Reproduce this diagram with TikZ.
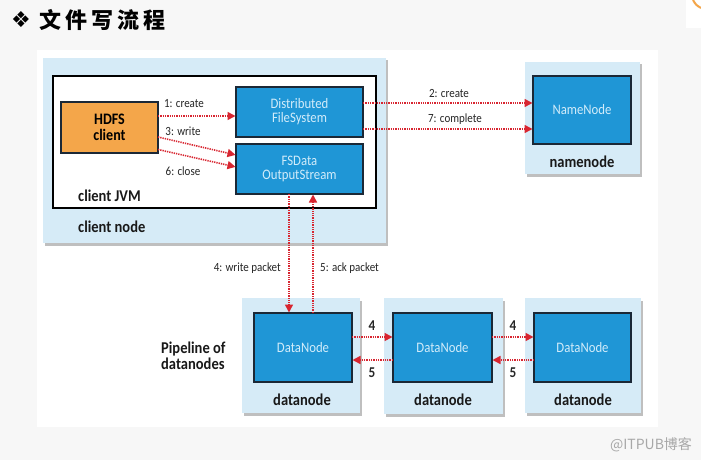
\documentclass[tikz,border=0pt]{standalone}
\usepackage{fontspec}
\setmainfont{Carlito}[FakeStretch=0.88]
\newfontfamily\cjk{Noto Sans CJK SC}
\newfontfamily\dejavu{DejaVu Sans}
\usetikzlibrary{arrows.meta,shadows}
\definecolor{bggray}{HTML}{F7F7F7}
\definecolor{lblue}{HTML}{D6EBF7}
\definecolor{dblue}{HTML}{1F96D6}
\definecolor{navy}{HTML}{1B2836}
\definecolor{ltext}{HTML}{D2ECFA}
\definecolor{orng}{HTML}{F4A64A}
\definecolor{arrred}{HTML}{D82530}
\definecolor{wmgray}{HTML}{A8A8A8}
\tikzset{
  outerbox/.style={fill=lblue, inner sep=0pt, outer sep=0pt,
    drop shadow={shadow xshift=2pt, shadow yshift=-2.5pt, fill=black, opacity=0.25}},
  innerbox/.style={fill=dblue, draw=navy, line width=1.6pt, inner sep=0pt, outer sep=0pt,
    text=ltext, align=center, font=\fontsize{14.5}{14}\selectfont},
  clientbox/.style={fill=orng, draw=navy, line width=1.6pt, inner sep=0pt, outer sep=0pt,
    text=black, align=center, font=\fontsize{16}{16.5}\selectfont\bfseries},
  jvmbox/.style={fill=white, draw=black, line width=1.5pt, inner sep=0pt, outer sep=0pt},
  boldlbl/.style={font=\fontsize{16.5}{16.5}\selectfont\bfseries, inner sep=0pt, text=black!90},
  arrlbl/.style={font=\fontsize{12.5}{13}\selectfont, inner sep=0pt, text=black!85},
  numlbl/.style={font=\fontsize{15}{15}\selectfont\bfseries, inner sep=0pt, text=black!85},
  arr/.style={draw=arrred, line width=1.6pt, dash pattern=on 1.3pt off 1pt,
    -{Triangle[length=8pt,width=8pt]}, shorten >=0.5pt},
}
\begin{document}
\begin{tikzpicture}[x=1pt,y=-1pt]
\fill[bggray] (0,0) rectangle (701,460);
\useasboundingbox (0,0) rectangle (701,460);
\fill[white] (37,50) rectangle (658,427);
\fill[white] (686,0) rectangle (701,28);
\draw[orng, line width=2pt] (693,0) .. controls (696,5) .. (701,8);

% title
\node[inner sep=0pt, font=\dejavu\fontsize{22}{22}\selectfont] (diam) at (21,20) {❖};
\node[anchor=west, inner sep=0pt, font=\cjk\bfseries\fontsize{22}{22}\selectfont] (title) at (39,20)
  {文\hspace{4pt}件\hspace{4pt}写\hspace{4pt}流\hspace{4pt}程};

% client node
\node[outerbox, minimum width=343pt, minimum height=185pt] (clientnode) at (214.5,150.5) {};
\node[jvmbox, minimum width=323pt, minimum height=132pt] (jvm) at (214.5,142) {};
\node[clientbox, minimum width=97pt, minimum height=51pt] (hdfs) at (109.5,127.5) {HDFS\\client};
\node[innerbox, minimum width=127pt, minimum height=50pt] (dfs) at (299.5,112) {Distributed\\FileSystem};
\node[innerbox, minimum width=127pt, minimum height=50pt] (fsd) at (299.5,169) {FSData\\OutputStream};
\node[boldlbl, anchor=west] (jvmlbl) at (78,196) {client JVM};
\node[boldlbl, anchor=west] (cnlbl) at (78,227) {client node};

% namenode
\node[outerbox, minimum width=115pt, minimum height=112pt] (nnout) at (582.5,118) {};
\node[innerbox, minimum width=98pt, minimum height=68pt] (nn) at (582,110) {NameNode};
\node[boldlbl] (nnlbl) at (582,162) {namenode};

% datanodes
\node[outerbox, minimum width=118pt, minimum height=115pt] (dn1out) at (301,355.5) {};
\node[innerbox, minimum width=98pt, minimum height=69pt] (dn1) at (303,347.5) {DataNode};
\node[boldlbl] (dn1lbl) at (302,400) {datanode};
\node[outerbox, minimum width=119pt, minimum height=116pt] (dn2out) at (443,356) {};
\node[innerbox, minimum width=99pt, minimum height=69pt] (dn2) at (442.5,347.5) {DataNode};
\node[boldlbl] (dn2lbl) at (443,400) {datanode};
\node[outerbox, minimum width=116pt, minimum height=115pt] (dn3out) at (583,355.5) {};
\node[innerbox, minimum width=97pt, minimum height=69pt] (dn3) at (582.5,347.5) {DataNode};
\node[boldlbl] (dn3lbl) at (583,400) {datanode};
\node[boldlbl, anchor=west, align=left] (pipe) at (161,356) {Pipeline of\\datanodes};

% client internal arrows
\coordinate (c1) at ([yshift=11.5pt]hdfs.east);
\draw[arr] (c1) -- (c1 -| dfs.west);
\draw[arr] ([yshift=-9.5pt]hdfs.east) -- ([yshift=14pt]fsd.west);
\draw[arr] ([yshift=-22pt]hdfs.east) -- ([yshift=2pt]fsd.west);
\node[arrlbl] (l1) at (184,104) {1: create};
\node[arrlbl] (l3) at (183,131) {3: write};
\node[arrlbl] (l6) at (183,171) {6: close};

% to namenode
\coordinate (c2) at ([yshift=9pt]dfs.east);
\coordinate (c7) at ([yshift=-17pt]dfs.east);
\draw[arr] (c2) -- (c2 -| nn.west);
\draw[arr] (c7) -- (c7 -| nn.west);
\node[arrlbl] (l2) at (449,93) {2: create};
\node[arrlbl] (l7) at (455,119) {7: complete};

% write/ack packet
\coordinate (c4) at ([xshift=-10.5pt]fsd.south);
\coordinate (c5) at ([xshift=13.5pt]fsd.south);
\draw[arr] (c4) -- (c4 |- dn1.north);
\draw[arr] (c5 |- dn1.north) -- (c5);
\node[arrlbl, anchor=east] (l4) at (281,268) {4: write packet};
\node[arrlbl, anchor=west] (l5) at (320,268) {5: ack packet};

% pipeline arrows
\coordinate (p4a) at ([yshift=10.5pt]dn1.east);
\coordinate (p5a) at ([yshift=-12.5pt]dn2.west);
\draw[arr] (p4a) -- (p4a -| dn2.west);
\draw[arr] (p5a) -- (p5a -| dn1.east);
\coordinate (p4b) at ([yshift=10.5pt]dn2.east);
\coordinate (p5b) at ([yshift=-12.5pt]dn3.west);
\draw[arr] (p4b) -- (p4b -| dn3.west);
\draw[arr] (p5b) -- (p5b -| dn2.east);
\node[numlbl] (n4a) at (372,326) {4};
\node[numlbl] (n5a) at (372,373) {5};
\node[numlbl] (n4b) at (513,326) {4};
\node[numlbl] (n5b) at (513,373) {5};

% watermark
\node[inner sep=0pt, text=wmgray, font=\cjk\fontsize{14}{15}\selectfont] (wm) at (651,445) {@ITPUB博客};
\end{tikzpicture}
\end{document}
